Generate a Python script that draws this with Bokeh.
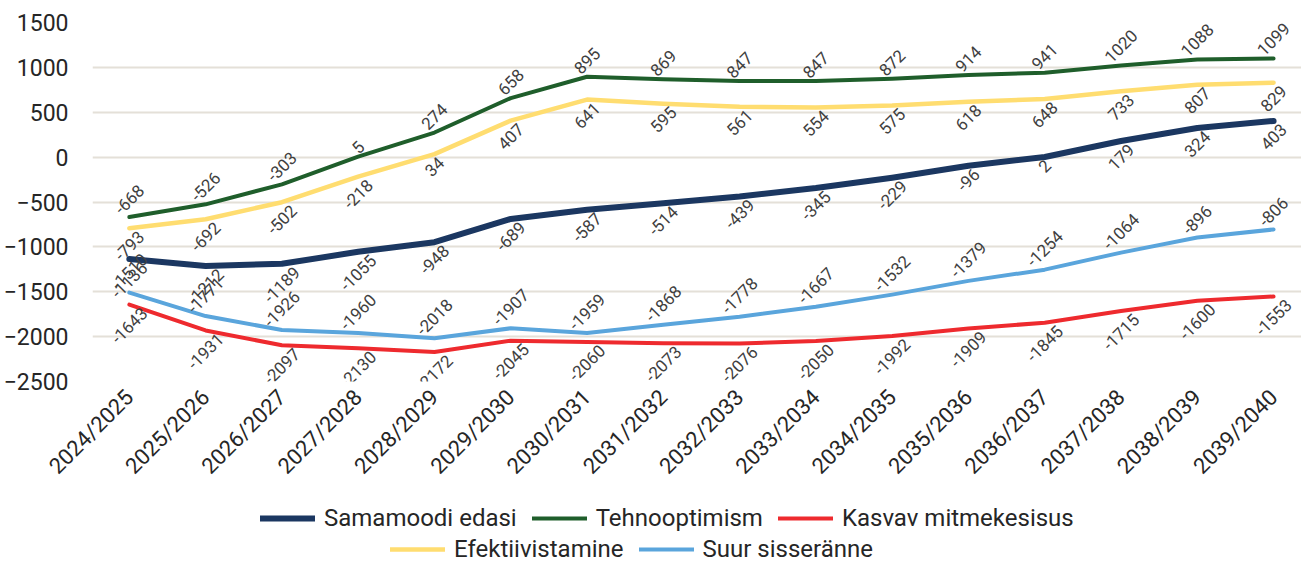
import math
from bokeh.plotting import figure
from bokeh.layouts import column
from bokeh.models import Range1d, FixedTicker, Legend, LegendItem, ColumnDataSource
from bokeh.embed import file_html
from bokeh.resources import INLINE

categories = ["2024/2025", "2025/2026", "2026/2027", "2027/2028", "2028/2029",
              "2029/2030", "2030/2031", "2031/2032", "2032/2033", "2033/2034",
              "2034/2035", "2035/2036", "2036/2037", "2037/2038", "2038/2039",
              "2039/2040"]

samamoodi_edasi = [-1136, -1212, -1189, -1055, -948, -689, -587, -514, -439, -345,
                   -229, -96, 2, 179, 324, 403]
tehnooptimism = [-668, -526, -303, 5, 274, 658, 895, 869, 847, 847, 872, 914, 941,
                 1020, 1088, 1099]
kasvav_mitmekesisus = [-1643, -1931, -2097, -2130, -2172, -2045, -2060, -2073, -2076,
                       -2050, -1992, -1909, -1845, -1715, -1600, -1553]
efektiivistamine = [-793, -692, -502, -218, 34, 407, 641, 595, 561, 554, 575, 618,
                    648, 733, 807, 829]
suur_sisseranne = [-1510, -1771, -1926, -1960, -2018, -1907, -1959, -1868, -1778,
                   -1667, -1532, -1379, -1254, -1064, -896, -806]

y_ticks = [-2500, -2000, -1500, -1000, -500, 0, 500, 1000, 1500]

series = [
    ("Samamoodi edasi", samamoodi_edasi, "#1b3761", 6, "below"),
    ("Tehnooptimism", tehnooptimism, "#1f5e2b", 4, "above"),
    ("Kasvav mitmekesisus", kasvav_mitmekesisus, "#ee2a2e", 4, "below"),
    ("Efektiivistamine", efektiivistamine, "#ffdd70", 4.5, "below"),
    ("Suur sisseränne", suur_sisseranne, "#5aa5dc", 4, "above"),
]

FONT = "Roboto"
LABEL_FS = 17

p = figure(width=1301, height=490, output_backend="svg",
           toolbar_location=None, x_range=Range1d(-0.483, 15.366),
           y_range=Range1d(-2500, 1500), min_border_left=87, min_border_right=0,
           min_border_top=22, min_border_bottom=109)
p.outline_line_color = None
p.background_fill_color = "white"
p.border_fill_color = "white"

xs = list(range(len(categories)))

renderers = []
for name, vals, color, lw, pos in series:
    r = p.line(xs, vals, line_color=color, line_width=lw, line_cap="round",
               line_join="round")
    renderers.append(r)


def text_width(s, fs):
    return sum(0.276 if c == "-" else 0.5615 for c in s) * fs


for name, vals, color, lw, pos in series:
    labels = [str(v) for v in vals]
    offs = []
    for s in labels:
        d = 0.354 * (text_width(s, LABEL_FS) + 0.8 * LABEL_FS) + 1
        offs.append(-d if pos == "above" else d)
    src = ColumnDataSource(dict(x=xs, y=vals, t=labels, yo=offs))
    p.text(x="x", y="y", text="t", source=src, y_offset="yo", angle=45,
           angle_units="deg",
           text_align="center", text_baseline="middle", text_font_size=f"{LABEL_FS}px",
           text_color="#404040", text_font={"value": FONT})

# axes
p.xaxis.ticker = FixedTicker(ticks=xs)
p.xaxis.major_label_overrides = {i: c for i, c in enumerate(categories)}
p.xaxis.major_label_orientation = math.pi / 4
p.xaxis.major_label_text_font = FONT
p.xaxis.major_label_text_font_size = "22px"
p.xaxis.major_label_text_color = "#262626"
p.xaxis.axis_line_color = None
p.xaxis.major_tick_line_color = None
p.xaxis.minor_tick_line_color = None
p.xaxis.major_label_standoff = 6

p.yaxis.ticker = FixedTicker(ticks=y_ticks)
p.yaxis.major_label_text_font = FONT
p.yaxis.major_label_text_font_size = "23px"
p.yaxis.major_label_text_color = "#262626"
p.yaxis.axis_line_color = None
p.yaxis.major_tick_line_color = None
p.yaxis.minor_tick_line_color = None
p.yaxis.major_label_standoff = 18

p.xgrid.grid_line_color = None
p.ygrid.ticker = FixedTicker(ticks=y_ticks)
p.ygrid.grid_line_color = "#e4e0d8"
p.ygrid.grid_line_width = 2

# legend strip (series lines drawn outside its visible range; only the legend shows)
lf = figure(width=1301, height=73, output_backend="svg", toolbar_location=None,
            min_border=0, x_axis_location=None, y_axis_location=None,
            x_range=Range1d(100, 101), y_range=Range1d(100000, 100001))
lf.grid.visible = False
lf.outline_line_color = None
lf.border_fill_color = "white"
lf.background_fill_color = "white"

legend_renderers = []
for name, vals, color, lw, pos in series:
    legend_renderers.append(lf.line(xs, vals, line_color=color, line_width=lw,
                                    line_cap="round"))


def make_legend(idx, loc):
    items = [LegendItem(label=series[i][0], renderers=[legend_renderers[i]]) for i in idx]
    lg = Legend(items=items, orientation="horizontal", location=loc)
    lg.label_text_font = FONT
    lg.label_text_font_size = "24px"
    lg.label_text_color = "#262626"
    lg.glyph_width = 55
    lg.glyph_height = 22
    lg.label_height = 24
    lg.label_standoff = 9
    lg.spacing = 15
    lg.padding = 1
    lg.margin = 0
    lg.border_line_color = None
    lg.background_fill_alpha = 0
    return lg


lf.add_layout(make_legend([0, 1, 2], (168, 31)))
lf.add_layout(make_legend([3, 4], (298, 0)))

open("out.html", "w").write(file_html(column(p, lf), INLINE))
